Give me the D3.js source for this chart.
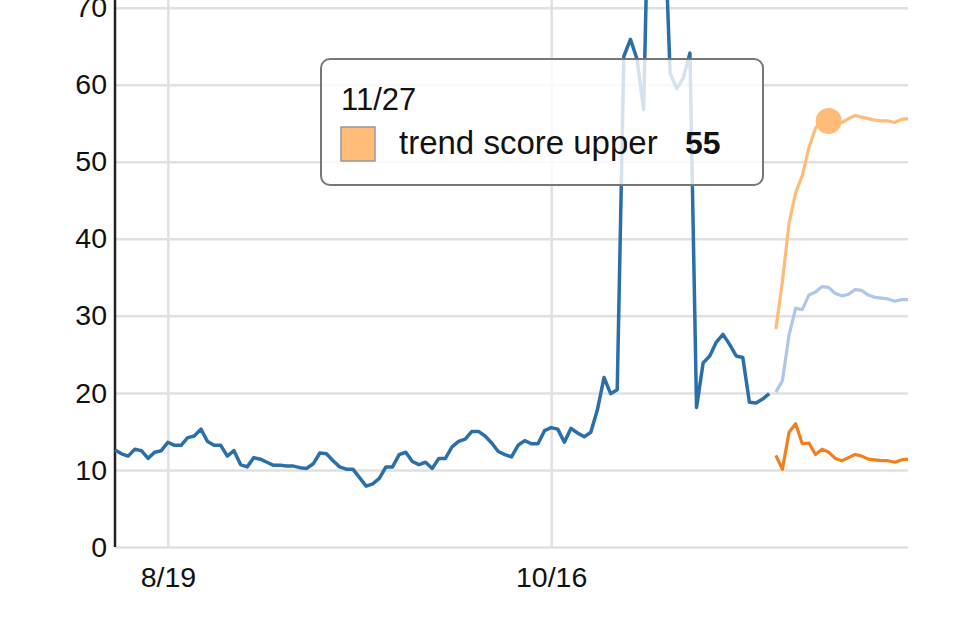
<!DOCTYPE html>
<meta charset="utf-8">
<style>
body { margin: 0; background: #fff; }
svg { display: block; }
text { font-family: "Liberation Sans", Arial, sans-serif; fill: #111; }
.grid line { stroke: #e0e0e0; stroke-width: 2.5px; }
.tick-label { font-size: 28.5px; }
</style>
<svg width="960" height="640"></svg>
<script src="https://d3js.org/d3.v7.min.js"></script>
<script>

// daily observed score, starting 8/11
var actualStart = "2019-08-11";
var actual = [
  12.6, 12.1, 11.8, 12.7, 12.5, 11.5, 12.3, 12.5, 13.6, 13.2,
  13.2, 14.2, 14.4, 15.3, 13.7, 13.2, 13.2, 11.8, 12.5, 10.7,
  10.4, 11.6, 11.4, 11.0, 10.6, 10.6, 10.5, 10.5, 10.3, 10.2,
  10.8, 12.2, 12.1, 11.2, 10.4, 10.1, 10.1, 9.0, 7.9, 8.2,
  8.9, 10.4, 10.4, 12.0, 12.3, 11.1, 10.7, 11.0, 10.2, 11.5,
  11.5, 13.0, 13.7, 14.0, 15.0, 15.0, 14.4, 13.5, 12.4, 12.0,
  11.7, 13.2, 13.8, 13.4, 13.4, 15.1, 15.5, 15.3, 13.6, 15.4,
  14.8, 14.3, 14.9, 17.8, 22.0, 19.9, 20.4, 63.7, 65.9, 63.3,
  56.8, 96, 100, 85, 61.5, 59.5, 60.9, 64.1, 18.1, 23.9,
  24.8, 26.6, 27.6, 26.3, 24.8, 24.6, 18.8, 18.7, 19.2, 19.9
];

// forecast, starting 11/19
var forecastStart = "2019-11-19";
var trendScore = [
  20.1, 21.6, 27.5, 31.0, 30.8, 32.7, 33.1, 33.8, 33.7, 32.9,
  32.6, 32.8, 33.4, 33.3, 32.7, 32.4, 32.3, 32.2, 31.9, 32.1, 32.1
];
var trendUpper = [
  28.3, 34.5, 42.0, 46.0, 48.2, 51.8, 54.4, 55.0, 55.3, 55.2,
  55.1, 55.6, 56.0, 55.8, 55.6, 55.4, 55.3, 55.3, 55.1, 55.5, 55.6
];
var trendLower = [
  11.9, 10.1, 14.9, 16.0, 13.4, 13.5, 12.0, 12.7, 12.3, 11.5,
  11.2, 11.6, 12.0, 11.8, 11.4, 11.3, 11.2, 11.2, 11.0, 11.3, 11.4
];

var yTicks = [0, 10, 20, 30, 40, 50, 60, 70];
var xTickLabels = ["2019-08-19", "2019-10-16"];
var hoverDate = "2019-11-27";

var parse = d3.timeParse("%Y-%m-%d"),
    fmt = d3.timeFormat("%-m/%-d");

function toSeries(start, values) {
  var d0 = parse(start);
  return values.map(function(v, i) {
    return { date: d3.timeDay.offset(d0, i), value: v };
  });
}

var actualData = toSeries(actualStart, actual),
    scoreData = toSeries(forecastStart, trendScore),
    upperData = toSeries(forecastStart, trendUpper),
    lowerData = toSeries(forecastStart, trendLower);

var svg = d3.select("svg"),
    margin = {top: 0, right: 52, bottom: 93, left: 115},
    width = +svg.attr("width") - margin.left - margin.right,
    height = +svg.attr("height") - margin.top - margin.bottom;

var g = svg.append("g")
    .attr("transform", "translate(" + margin.left + "," + margin.top + ")");

var x = d3.scaleTime()
    .domain([actualData[0].date, lowerData[lowerData.length - 1].date])
    .range([0, width]);

var y = d3.scaleLinear()
    .domain([0, 71])
    .range([height, 0]);

// horizontal grid
g.append("g")
    .attr("class", "grid")
    .call(d3.axisLeft(y).tickValues(yTicks).tickSize(-width).tickFormat(""))
    .call(function(s) { s.select(".domain").remove(); });

// vertical grid
g.append("g")
    .attr("class", "grid")
    .attr("transform", "translate(0," + height + ")")
    .call(d3.axisBottom(x).tickValues(xTickLabels.map(parse)).tickSize(-height).tickFormat(""))
    .call(function(s) { s.select(".domain").remove(); });

// y labels
var yAxis = g.append("g")
    .call(d3.axisLeft(y).tickValues(yTicks).tickSize(0).tickPadding(8));
yAxis.select(".domain").remove();
yAxis.selectAll("text")
    .attr("class", "tick-label")
    .attr("fill", "#111")
    .attr("font-family", null)
    .attr("font-size", null);

// x labels
var xAxis = g.append("g")
    .attr("transform", "translate(0," + height + ")")
    .call(d3.axisBottom(x).tickValues(xTickLabels.map(parse)).tickFormat(fmt).tickSize(0).tickPadding(17));
xAxis.select(".domain").remove();
xAxis.selectAll("text")
    .attr("class", "tick-label")
    .attr("fill", "#111")
    .attr("font-family", null)
    .attr("font-size", null)
    .attr("dy", "0.8em");

// left axis line
g.append("line")
    .attr("x1", 0).attr("x2", 0)
    .attr("y1", -1).attr("y2", height)
    .attr("stroke", "#222")
    .attr("stroke-width", 2.5);

var line = d3.line()
    .x(function(d) { return x(d.date); })
    .y(function(d) { return y(d.value); });

var series = [
  { data: actualData, color: "#2a6fa8", width: 3.5 },
  { data: upperData, color: "#ffbb78", width: 3.2 },
  { data: scoreData, color: "#aec7e8", width: 3.2 },
  { data: lowerData, color: "#f07f1c", width: 3.2 }
];

g.selectAll(".series")
  .data(series)
  .enter().append("path")
    .attr("class", "series")
    .attr("fill", "none")
    .attr("stroke", function(d) { return d.color; })
    .attr("stroke-width", function(d) { return d.width; })
    .attr("stroke-linejoin", "round")
    .attr("d", function(d) { return line(d.data); });

// hovered point
var hovered = upperData.find(function(d) { return fmt(d.date) === fmt(parse(hoverDate)); });

g.append("circle")
    .attr("cx", x(hovered.date))
    .attr("cy", y(hovered.value))
    .attr("r", 13)
    .attr("fill", "#ffbb78");

// tooltip
var tip = svg.append("g").attr("transform", "translate(321,59)");

tip.append("rect")
    .attr("width", 442)
    .attr("height", 126)
    .attr("rx", 9)
    .attr("fill", "#fff")
    .attr("fill-opacity", 0.8)
    .attr("stroke", "#777")
    .attr("stroke-width", 2);

tip.append("text")
    .attr("x", 20)
    .attr("y", 51)
    .style("font-size", "31px")
    .text(fmt(hovered.date));

tip.append("rect")
    .attr("x", 20)
    .attr("y", 68)
    .attr("width", 34)
    .attr("height", 34)
    .attr("fill", "#ffbb78")
    .attr("stroke", "#999")
    .attr("stroke-width", 1.5);

tip.append("text")
    .attr("x", 78)
    .attr("y", 95)
    .style("font-size", "33px")
    .text("trend score upper");

tip.append("text")
    .attr("x", 364)
    .attr("y", 95)
    .style("font-size", "32px")
    .style("font-weight", "bold")
    .text(Math.round(hovered.value));

</script>
